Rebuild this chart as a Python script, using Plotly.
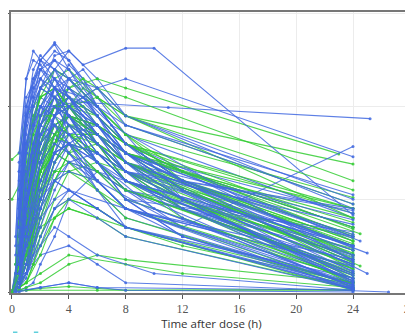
import plotly.graph_objects as go

# Standard sampling grids (h)
G1 = [0.5, 1, 1.5, 2, 3, 4, 6, 8, 24]
G2 = [0.25, 0.5, 1, 2, 3, 4, 6, 8, 12, 24]
G3 = [0, 1, 2, 3, 4, 5, 6, 8, 24]
G4 = [0.5, 1, 2, 3, 4, 6, 8, 12, 24]

blue_t = [
    G1, G1, G1, G2, G2, G3, G1, G1, G2, G1,
    G3, G1, G2, G1, [0.5, 1, 2, 3, 4, 5, 8, 10, 24], [0.5, 1, 2, 3, 4.5, 11, 25.2],
    [0.5, 1, 2, 4, 6, 12, 24], G1, G2, G1, G3, G1, G2, G1, G1,
    [0, 0.5, 1, 2, 4, 6, 24], G2, G1, G3, G1, [0.5, 1, 2, 3, 4, 6, 8, 24.5], G2, G1, G1,
    [0.5, 1, 2, 3, 4, 6, 8, 25], G3, G1, G2, [0.5, 1, 2, 4, 6, 8, 26.5], G1, G1, G2,
    [1, 2, 3, 4, 6, 10, 24], G1, G3, G1, [0.5, 1, 1.5, 2, 3, 4, 6, 8, 12, 24], G1,
    [0, 2, 4, 6, 8, 24], G1, [0.5, 1, 2, 3, 4, 6, 8, 24], G2, G1, [0.5, 1, 2, 3, 4, 8, 24],
]
blue_c = [
    [0.6, 1.5, 2.1, 2.4, 2.6, 2.5, 2.0, 1.6, 0.55],
    [0.2, 0.8, 1.4, 1.9, 2.4, 2.6, 2.3, 1.9, 0.9],
    [1.2, 2.0, 2.3, 2.4, 2.2, 1.9, 1.4, 1.1, 0.25],
    [0.1, 0.4, 1.0, 1.8, 2.2, 2.3, 2.0, 1.6, 1.1, 0.5],
    [0.3, 0.9, 1.6, 2.1, 2.0, 1.8, 1.4, 1.1, 0.7, 0.15],
    [0, 0.7, 1.6, 2.2, 2.45, 2.3, 2.0, 1.6, 0.4],
    [0.1, 0.3, 0.8, 1.3, 1.9, 2.2, 2.0, 1.7, 0.8],
    [0.9, 1.8, 2.2, 2.5, 2.67, 2.4, 1.9, 1.5, 0.35],
    [0.2, 1.1, 2.0, 2.5, 2.69, 2.5, 2.1, 1.7, 1.0, 0.3],
    [0.4, 1.0, 1.5, 1.8, 2.0, 1.9, 1.5, 1.2, 0.45],
    [0, 0.3, 1.1, 1.7, 2.0, 2.1, 1.9, 1.5, 0.6],
    [0.05, 0.2, 0.6, 1.0, 1.6, 1.9, 1.8, 1.5, 0.85],
    [0.5, 1.4, 2.1, 2.4, 2.3, 2.1, 1.7, 1.3, 0.9, 0.2],
    [0.3, 0.9, 1.3, 1.6, 1.8, 1.7, 1.4, 1.1, 0.3],
    [0.4, 1.3, 2.2, 2.55, 2.6, 2.45, 2.63, 2.63, 0.83],
    [0.3, 1.0, 1.7, 2.0, 2.05, 1.99, 1.87],
    [0.3, 1.1, 1.7, 1.6, 1.2, 0.7, 1.57],
    [0.02, 0.05, 0.1, 0.3, 0.6, 1.0, 1.3, 1.2, 0.5],
    [0, 0.05, 0.3, 0.9, 1.4, 1.6, 1.5, 1.3, 0.9, 0.4],
    [1.5, 2.3, 2.6, 2.5, 2.3, 2.0, 1.6, 1.2, 0.2],
    [0, 1.0, 1.9, 2.1, 2.0, 1.8, 1.6, 1.3, 0.12],
    [0.2, 0.7, 1.2, 1.5, 1.7, 1.6, 1.3, 1.0, 0.65],
    [0.05, 0.2, 0.7, 1.4, 1.8, 1.9, 1.7, 1.4, 1.0, 0.38],
    [0.8, 1.6, 1.9, 2.0, 1.8, 1.5, 1.1, 0.8, 0.08],
    [0.1, 0.4, 0.9, 1.4, 1.9, 2.1, 2.0, 1.8, 1.05],
    [0, 0, 0.02, 0.05, 0.1, 0.05, 0.02],
    [0.6, 1.3, 1.9, 2.2, 2.1, 1.8, 1.4, 1.0, 0.6, 0.1],
    [0.2, 0.5, 1.0, 1.3, 1.5, 1.4, 1.2, 0.9, 0.28],
    [0, 0.4, 1.3, 1.9, 2.3, 2.4, 2.2, 1.8, 0.95],
    [0.3, 1.1, 1.7, 2.0, 2.2, 2.1, 1.8, 1.5, 0.7],
    [0.1, 0.6, 1.3, 1.7, 1.9, 1.8, 1.5, 0.55],
    [0.1, 0.5, 1.3, 1.9, 2.2, 2.1, 1.8, 1.5, 1.1, 0.45],
    [0.05, 0.15, 0.4, 0.8, 1.2, 1.4, 1.3, 1.1, 0.6],
    [1.0, 1.9, 2.4, 2.55, 2.4, 2.1, 1.6, 1.2, 0.18],
    [0.2, 0.8, 1.5, 1.8, 1.9, 1.7, 1.4, 0.42],
    [0, 0.2, 0.8, 1.3, 1.6, 1.7, 1.6, 1.4, 0.78],
    [0.4, 1.3, 1.8, 2.0, 2.0, 1.8, 1.4, 1.1, 0.05],
    [0.02, 0.1, 0.5, 1.0, 1.5, 1.8, 1.7, 1.5, 1.2, 0.9],
    [0.1, 0.2, 0.4, 0.5, 0.3, 0.1, 0.0],
    [0.7, 1.5, 2.0, 2.2, 2.3, 2.1, 1.7, 1.4, 0.5],
    [0.3, 0.6, 0.9, 1.1, 1.2, 1.1, 0.9, 0.7, 0.15],
    [0.4, 1.0, 1.8, 2.3, 2.5, 2.4, 2.0, 1.6, 1.2, 0.6],
    [0.3, 0.5, 0.7, 0.6, 0.4, 0.2, 0.02],
    [0.15, 0.6, 1.2, 1.7, 2.1, 2.3, 2.2, 1.9, 1.0],
    [0, 0.9, 1.7, 2.0, 2.1, 1.9, 1.7, 1.4, 0.32],
    [0.05, 0.3, 0.8, 1.2, 1.5, 1.6, 1.4, 1.2, 0.2],
    [0.8, 1.8, 2.3, 2.5, 2.4, 2.2, 1.8, 1.4, 0.9, 0.12],
    [0.2, 0.9, 1.5, 1.8, 2.0, 1.9, 1.6, 1.3, 0.73],
    [0, 0.05, 0.1, 0.05, 0.02, 0],
    [0.6, 1.2, 1.6, 1.8, 1.7, 1.5, 1.2, 0.9, 0.27],
    [0.1, 0.4, 1.0, 1.5, 2.0, 2.2, 2.3, 1.46],
    [0.2, 0.7, 1.5, 2.0, 2.3, 2.2, 1.9, 1.6, 1.2, 0.62],
    [0.4, 1.0, 1.4, 1.7, 1.9, 1.8, 1.6, 1.3, 0.88],
    [0.1, 0.2, 0.5, 0.9, 1.1, 0.9, 0.35],
]

blue2_t = [
    G4, G4, G1, G4, G1, G4, G1, [0.5, 1, 2, 3, 4, 6, 8, 24], G4, G1,
    [0.5, 1, 2, 3, 4, 6, 10, 24], G4, G1, G4, [0.5, 1, 2, 3, 4, 6, 8, 24], G1,
    [1, 2, 3, 4, 6, 8, 24], G4, G1, [0.5, 1, 2, 3, 4, 6, 8, 25], G4, G1, G1,
    [0.5, 1, 2, 3, 5, 7, 24], G4,
]
blue2_c = [
    [0.3, 1.0, 1.8, 2.1, 2.0, 1.7, 1.3, 0.8, 0.05],
    [0.1, 0.6, 1.4, 1.9, 2.1, 1.9, 1.5, 1.0, 0.1],
    [0.5, 1.3, 1.8, 2.0, 1.9, 1.6, 1.1, 0.7, 0.03],
    [0.2, 0.9, 1.6, 1.8, 1.7, 1.4, 1.0, 0.6, 0.08],
    [0.8, 1.7, 2.1, 2.3, 2.2, 1.9, 1.4, 1.0, 0.15],
    [0.05, 0.3, 0.9, 1.4, 1.7, 1.8, 1.5, 1.1, 0.22],
    [0.3, 0.9, 1.4, 1.7, 1.8, 1.6, 1.2, 0.9, 0.1],
    [0.2, 0.6, 1.0, 1.2, 1.1, 0.9, 0.7, 0.04],
    [0.4, 1.2, 1.9, 2.2, 2.1, 1.8, 1.5, 1.1, 0.35],
    [1.1, 1.9, 2.2, 2.3, 2.1, 1.7, 1.2, 0.9, 0.02],
    [0.1, 0.5, 1.1, 1.5, 1.6, 1.4, 0.9, 0.07],
    [0.6, 1.5, 2.2, 2.4, 2.3, 2.0, 1.6, 1.2, 0.48],
    [0.05, 0.2, 0.5, 0.8, 1.0, 1.1, 0.9, 0.7, 0.06],
    [0.2, 0.8, 1.5, 1.9, 2.0, 1.8, 1.4, 1.0, 0.3],
    [0.9, 1.9, 2.4, 2.5, 2.3, 1.9, 1.4, 0.14],
    [0.4, 1.1, 1.6, 1.9, 2.0, 1.9, 1.6, 1.3, 0.4],
    [0.2, 0.6, 0.9, 1.0, 0.8, 0.6, 0.03],
    [0.3, 0.7, 1.2, 1.5, 1.6, 1.5, 1.2, 0.9, 0.18],
    [0.7, 1.6, 2.0, 2.2, 2.1, 1.9, 1.5, 1.2, 0.23],
    [0.3, 1.0, 1.6, 1.9, 2.0, 1.8, 1.5, 0.2],
    [0.1, 0.3, 0.7, 1.1, 1.4, 1.5, 1.3, 1.0, 0.12],
    [0.2, 0.6, 1.1, 1.4, 1.6, 1.5, 1.2, 0.9, 0.07],
    [1.3, 2.3, 2.5, 2.45, 2.2, 1.9, 1.5, 1.2, 0.5],
    [0.2, 0.9, 1.8, 2.2, 2.1, 1.8, 0.33],
    [0.2, 0.5, 0.9, 1.2, 1.3, 1.2, 0.9, 0.6, 0.04],
]

green_t = [
    G1, G2, [0, 0.5, 1, 2, 3, 4, 6, 8, 24], G1, G3, G1, [0.5, 1, 2, 3, 4, 6, 8, 23], G2, G1,
    [0, 1, 2, 4, 6, 8, 24], G1, G3, G1, [0.5, 1, 2, 3, 4, 6, 8, 12, 24], G1, G2,
    [0, 1, 2, 3, 4, 6, 8, 24], G1, G3, [0.5, 1, 2, 4, 6, 8, 24], G1, G2, G1,
    [0.5, 1, 2, 3, 4, 6, 8, 24.5], G1, G3, G1, [0, 2, 4, 8, 12, 24], G2, G1,
    [0.5, 1, 2, 3, 4, 6, 8, 24], G1, G3, [0, 6, 24], G1,
]
green_c = [
    [0.3, 1.0, 1.6, 2.0, 2.3, 2.4, 2.1, 1.8, 0.95],
    [0.1, 0.5, 1.2, 1.8, 2.1, 2.2, 2.0, 1.7, 1.3, 0.7],
    [1.43, 1.5, 1.9, 2.1, 2.2, 2.0, 1.7, 1.4, 0.5],
    [0.2, 0.7, 1.2, 1.6, 2.0, 2.1, 1.9, 1.6, 0.85],
    [0, 0.3, 1.0, 1.6, 2.0, 2.2, 2.1, 1.9, 1.38],
    [0.5, 1.3, 1.8, 2.1, 2.2, 2.0, 1.7, 1.4, 0.4],
    [0.2, 0.8, 1.6, 2.0, 2.2, 2.3, 2.2, 1.49],
    [0.02, 0.1, 0.4, 1.0, 1.5, 1.8, 1.8, 1.6, 1.2, 0.55],
    [0.1, 0.4, 0.9, 1.3, 1.7, 1.9, 1.8, 1.6, 0.9],
    [0, 0.02, 0.04, 0.06, 0.04, 0.02, 0.03],
    [0.7, 1.5, 2.0, 2.2, 2.1, 1.9, 1.5, 1.2, 0.3],
    [0, 0.6, 1.4, 1.9, 2.2, 2.3, 2.2, 1.9, 0.8],
    [0.1, 0.2, 0.5, 0.9, 1.4, 1.7, 1.7, 1.5, 0.75],
    [0.3, 0.9, 1.5, 1.8, 1.9, 1.8, 1.6, 1.3, 0.6],
    [0.05, 0.1, 0.3, 0.6, 1.0, 1.3, 1.4, 1.3, 0.58],
    [0.3, 0.8, 1.6, 2.1, 2.4, 2.3, 2.0, 1.7, 1.2, 0.5],
    [1.0, 1.3, 1.6, 1.8, 1.7, 1.5, 1.3, 0.45],
    [0.2, 0.6, 1.1, 1.4, 1.6, 1.5, 1.3, 1.1, 0.22],
    [0, 0.5, 1.2, 1.7, 2.0, 2.0, 1.9, 1.6, 0.68],
    [0.02, 0.05, 0.1, 0.3, 0.4, 0.35, 0.1],
    [0.4, 1.2, 1.8, 2.2, 2.4, 2.3, 2.0, 1.7, 1.02],
    [0.1, 0.3, 0.9, 1.5, 1.9, 2.0, 1.9, 1.6, 1.3, 0.8],
    [0.3, 0.8, 1.3, 1.6, 1.8, 1.7, 1.5, 1.2, 0.37],
    [0.2, 0.6, 1.2, 1.6, 1.8, 1.7, 1.5, 0.63],
    [0.05, 0.2, 0.6, 1.1, 1.6, 2.0, 2.1, 1.9, 1.1],
    [0, 0.8, 1.6, 2.0, 2.1, 2.0, 1.8, 1.5, 0.25],
    [0.1, 0.5, 1.0, 1.4, 1.8, 1.9, 1.7, 1.4, 0.52],
    [0, 0.2, 0.4, 0.3, 0.2, 0.05],
    [0.2, 0.6, 1.3, 1.8, 2.0, 1.9, 1.7, 1.4, 1.0, 0.4],
    [0.6, 1.4, 1.9, 2.1, 2.2, 2.0, 1.6, 1.3, 0.15],
    [0.1, 0.5, 1.1, 1.6, 2.0, 2.2, 2.1, 1.2],
    [0.1, 0.3, 0.7, 1.0, 1.3, 1.4, 1.3, 1.1, 0.47],
    [0, 0.2, 0.7, 1.2, 1.5, 1.7, 1.7, 1.5, 0.9],
    [0.02, 0.02, 0.02],
    [0.3, 1.0, 1.5, 1.9, 2.1, 2.0, 1.8, 1.5, 0.7],
]

green2_t = [
    G4, G1, G4, [0.5, 1, 2, 3, 4, 6, 8, 24], G1, G4, [1, 2, 3, 4, 6, 8, 24], G1, G4, G1,
    [0.5, 1, 2, 3, 4, 6, 8, 24], G4, G1, [0.5, 1, 2, 3, 4, 6, 8, 24.5], G4, G1,
    [0, 1, 2, 3, 4, 6, 8, 24], G4, G1, [0.5, 1, 2, 4, 6, 12, 24],
]
green2_c = [
    [0.1, 0.5, 1.2, 1.6, 1.8, 1.6, 1.3, 0.9, 0.1],
    [0.2, 0.6, 1.0, 1.3, 1.5, 1.4, 1.1, 0.8, 0.05],
    [0.3, 0.9, 1.5, 1.8, 1.9, 1.7, 1.4, 1.0, 0.28],
    [0.05, 0.2, 0.6, 0.9, 1.0, 0.9, 0.7, 0.1],
    [0.4, 1.0, 1.5, 1.8, 2.0, 1.9, 1.6, 1.3, 0.33],
    [0.1, 0.4, 1.0, 1.4, 1.6, 1.5, 1.2, 0.9, 0.2],
    [0.1, 0.4, 0.8, 1.0, 0.9, 0.7, 0.02],
    [0.2, 0.7, 1.3, 1.7, 2.0, 2.0, 1.7, 1.4, 0.62],
    [0.5, 1.2, 1.8, 2.0, 1.9, 1.6, 1.2, 0.8, 0.12],
    [0.1, 0.4, 0.8, 1.1, 1.3, 1.3, 1.1, 0.9, 0.15],
    [0.3, 0.8, 1.4, 1.7, 1.8, 1.6, 1.3, 0.08],
    [0.2, 0.6, 1.3, 1.7, 1.9, 1.8, 1.5, 1.1, 0.42],
    [0.05, 0.1, 0.3, 0.5, 0.8, 0.9, 0.8, 0.6, 0.04],
    [0.2, 0.7, 1.3, 1.6, 1.7, 1.6, 1.4, 0.28],
    [0.4, 1.0, 1.7, 2.0, 2.1, 1.9, 1.6, 1.2, 0.55],
    [0.3, 0.8, 1.2, 1.5, 1.7, 1.6, 1.3, 1.0, 0.18],
    [0, 0.4, 0.9, 1.2, 1.3, 1.2, 0.9, 0.06],
    [0.1, 0.3, 0.8, 1.2, 1.5, 1.6, 1.4, 1.1, 0.35],
    [0.6, 1.3, 1.7, 1.9, 1.9, 1.7, 1.4, 1.1, 0.25],
    [0.1, 0.3, 0.7, 0.9, 0.8, 0.5, 0.1],
]

x_ticks = [0, 4, 8, 12, 16, 20, 24, 28]
y_ticks = [0, 1, 2, 3]
x_title = "Time after dose (h)"

BLUE = "rgba(65,105,225,0.85)"
GREEN = "rgba(50,205,50,0.85)"

all_blue = list(zip(blue_t + blue2_t, blue_c + blue2_c))
all_green = list(zip(green_t + green2_t, green_c + green2_c))

fig = go.Figure()
n = max(len(all_blue), len(all_green))
for i in range(n):
    if i < len(all_green):
        t, c = all_green[i]
        fig.add_trace(go.Scatter(x=t, y=c, mode="lines+markers",
                                 line=dict(color=GREEN, width=1.1),
                                 marker=dict(color=GREEN, size=3),
                                 showlegend=False, hoverinfo="skip"))
    if i < len(all_blue):
        t, c = all_blue[i]
        fig.add_trace(go.Scatter(x=t, y=c, mode="lines+markers",
                                 line=dict(color=BLUE, width=1.1),
                                 marker=dict(color=BLUE, size=3),
                                 showlegend=False, hoverinfo="skip"))

# cut-off legend swatches peeking in at the bottom-left edge
for x0, x1 in [(0.005, 0.016), (0.057, 0.068)]:
    fig.add_shape(type="rect", xref="paper", yref="paper", x0=x0, x1=x1,
                  y0=-0.137, y1=-0.145, line=dict(width=0), fillcolor="#5fcfdc")

# page body has an 8px default margin, so the figure is sized/offset accordingly
fig.update_layout(
    width=405, height=325,
    margin=dict(l=3, r=1, t=4, b=40, autoexpand=False),
    paper_bgcolor="white", plot_bgcolor="white",
    xaxis=dict(range=[-0.07, 28.15], tickvals=x_ticks, ticks="outside", ticklen=4,
               tickcolor="#555", showline=True, linecolor="#777", linewidth=1.5, mirror=True,
               showgrid=True, gridcolor="#ececec", zeroline=False, automargin=False,
               ticklabeloverflow="allow",
               tickfont=dict(family="Liberation Serif", size=12, color="#555"),
               title=dict(text=x_title, font=dict(family="Open Sans", size=11.5, color="#333"),
                          standoff=2)),
    yaxis=dict(range=[-0.01, 3.02], tickvals=y_ticks, ticktext=["", "", "", ""],
               ticks="outside", ticklen=5, tickcolor="#555", automargin=False,
               showline=True, linecolor="#777", linewidth=1.5, mirror=True,
               showgrid=True, gridcolor="#ececec", zeroline=False),
)

fig.write_html("out.html")
